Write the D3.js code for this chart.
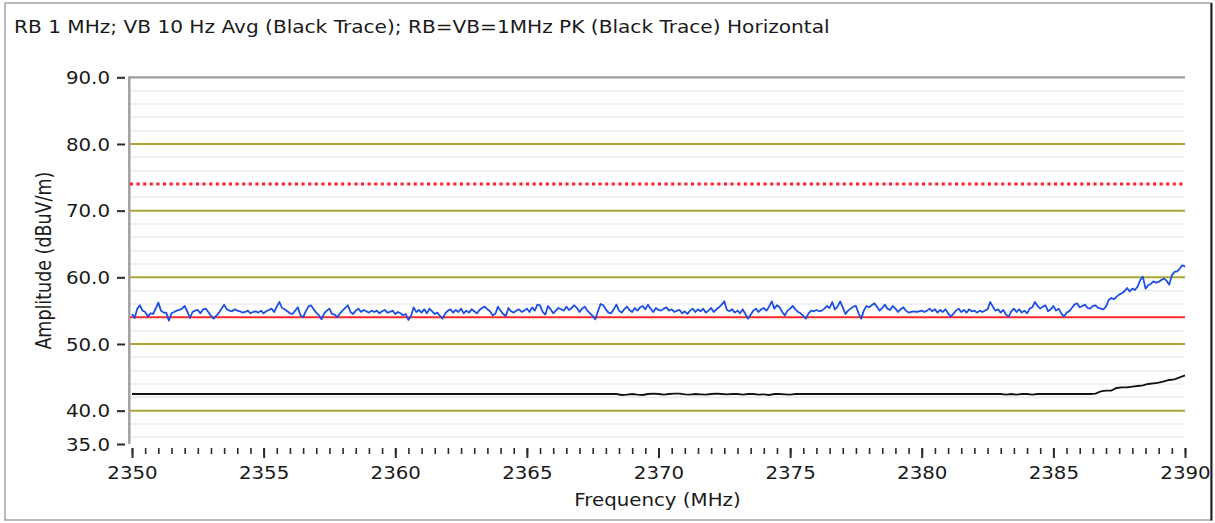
<!DOCTYPE html>
<html>
<head>
<meta charset="utf-8">
<script src="https://cdn.jsdelivr.net/npm/d3@7"></script>
<style>
  html, body { margin: 0; padding: 0; background: #ffffff; }
  svg { display: block; }
  text { font-family: "DejaVu Sans", Verdana, sans-serif; fill: #1a1a1a; }
</style>
</head>
<body>
<svg id="chart" width="1215" height="523"></svg>
<script>
// ---- Sweep data ----------------------------------------------------------
const titleText = "RB 1 MHz; VB 10 Hz Avg (Black Trace); RB=VB=1MHz PK (Black Trace) Horizontal";
const xLabel = "Frequency (MHz)";
const yLabel = "Amplitude (dBuV/m)";

// Peak sweep (blue): 2350.0 .. 2390.0 MHz, 0.1 MHz per point
const peakStart = 2350, peakStep = 0.1;
const peakValues = [
  54.5,53.9,55.3,55.8,55.0,54.8,54.1,54.6,54.5,55.3,56.2,55.0,54.7,54.7,53.5,54.6,54.8,55.0,55.1,55.3,
  55.7,54.9,53.9,54.8,55.0,55.1,54.6,55.2,55.3,54.8,54.2,53.8,54.2,54.7,55.3,55.9,55.2,55.0,54.9,55.2,
  55.0,54.9,54.7,54.8,55.0,54.6,54.8,54.9,54.7,55.0,54.6,54.9,55.1,55.3,54.8,55.6,56.3,55.4,55.2,54.9,
  54.6,54.5,55.0,55.5,54.3,54.0,54.9,55.6,55.8,55.2,54.7,54.3,53.7,54.6,55.0,55.3,54.5,54.4,54.0,54.6,
  55.0,55.4,55.8,54.8,54.5,55.0,55.3,54.8,55.1,54.9,54.7,55.0,54.8,55.0,54.6,54.9,55.1,54.7,54.8,55.0,
  54.5,54.8,54.6,54.3,54.5,53.6,54.2,55.5,54.8,55.1,54.7,55.2,54.6,55.3,54.9,54.5,54.7,54.2,53.8,54.6,
  55.0,55.2,54.7,55.1,54.8,55.3,54.6,55.0,54.7,55.2,54.9,54.6,55.1,55.4,55.6,55.2,54.9,54.3,54.5,55.6,
  55.0,54.5,54.2,55.4,54.9,54.7,55.0,55.2,54.8,55.0,55.3,54.8,55.5,55.0,55.9,55.8,54.8,54.4,55.7,55.2,
  54.6,55.0,55.4,55.2,55.0,55.6,55.1,55.4,55.8,55.4,54.8,55.3,55.6,55.0,54.6,54.2,53.7,54.9,56.0,55.8,
  55.2,54.7,54.6,55.2,55.9,55.0,54.7,55.2,55.6,55.1,54.8,55.4,55.0,55.5,55.7,55.2,55.9,55.3,54.8,55.4,
  55.1,55.0,55.3,55.5,55.0,55.2,54.8,55.0,55.1,54.6,54.9,54.5,55.0,55.3,54.8,55.2,54.9,55.3,54.7,55.0,
  55.4,54.8,55.2,55.5,55.9,56.4,55.1,54.9,55.2,54.7,55.0,54.6,55.2,54.5,53.8,54.4,55.0,55.3,54.8,55.2,
  55.4,55.0,55.6,56.4,55.3,55.8,55.5,54.8,54.3,55.0,55.3,55.7,55.2,54.8,54.6,54.2,53.8,54.6,55.0,54.9,
  55.1,54.9,55.0,55.3,55.7,55.4,56.3,55.2,55.6,56.4,55.5,54.5,55.0,55.3,55.6,55.7,54.6,53.8,55.0,55.7,
  55.5,55.8,56.1,55.6,55.0,55.4,55.9,55.3,55.1,55.7,55.3,54.8,55.2,55.5,55.0,54.7,54.8,54.9,54.8,54.9,
  55.0,54.8,55.0,55.3,54.9,55.2,54.7,55.1,54.8,55.2,54.6,54.1,54.5,55.0,55.3,54.8,55.1,54.7,55.2,54.9,
  55.0,54.7,55.0,54.8,55.0,55.2,56.3,55.6,55.0,55.2,54.7,55.1,54.4,54.1,54.9,55.3,54.8,55.2,54.7,55.0,
  54.6,55.3,55.5,56.3,55.7,55.3,55.6,55.8,54.9,55.2,55.7,55.0,55.3,54.6,54.1,54.7,54.9,55.4,55.9,56.1,
  55.5,55.7,55.9,55.4,55.3,55.7,55.8,55.4,55.3,55.2,55.6,56.6,56.9,56.7,57.1,57.4,57.6,57.9,58.4,57.9,
  58.3,58.1,58.6,59.6,60.1,58.3,58.8,59.0,59.4,59.2,59.3,59.6,59.8,59.5,58.9,60.3,60.8,60.9,61.3,61.8,
  61.6
];

// Average sweep (black): 2350.0 .. 2390.0 MHz, 0.2 MHz per point
const avgStart = 2350, avgStep = 0.2;
const avgValues = [
  42.5,42.5,42.5,42.5,42.5,42.5,42.5,42.5,42.5,42.5,42.5,42.5,42.5,42.5,42.5,42.5,42.5,42.5,42.5,42.5,
  42.5,42.5,42.5,42.5,42.5,42.5,42.5,42.5,42.5,42.5,42.5,42.5,42.5,42.5,42.5,42.5,42.5,42.5,42.5,42.5,
  42.5,42.5,42.5,42.5,42.5,42.5,42.5,42.5,42.5,42.5,42.5,42.5,42.5,42.5,42.5,42.5,42.5,42.5,42.5,42.5,
  42.5,42.5,42.5,42.5,42.5,42.5,42.5,42.5,42.5,42.5,42.5,42.5,42.5,42.5,42.5,42.5,42.5,42.5,42.5,42.5,
  42.5,42.5,42.5,42.5,42.5,42.5,42.5,42.5,42.5,42.5,42.5,42.5,42.5,42.35,42.4,42.5,42.4,42.35,42.5,42.55,
  42.5,42.4,42.5,42.55,42.55,42.45,42.4,42.5,42.45,42.4,42.5,42.55,42.5,42.45,42.5,42.5,42.4,42.5,42.5,42.4,
  42.45,42.35,42.5,42.5,42.45,42.4,42.5,42.5,42.5,42.5,42.5,42.5,42.5,42.5,42.5,42.5,42.5,42.5,42.5,42.5,
  42.5,42.5,42.5,42.5,42.5,42.5,42.5,42.5,42.5,42.5,42.5,42.5,42.5,42.5,42.5,42.5,42.5,42.5,42.5,42.5,
  42.5,42.5,42.5,42.5,42.5,42.5,42.4,42.5,42.4,42.5,42.5,42.4,42.5,42.5,42.5,42.5,42.5,42.5,42.5,42.5,
  42.5,42.5,42.5,42.55,42.9,43.0,43.0,43.4,43.5,43.5,43.6,43.7,43.8,44.0,44.1,44.2,44.4,44.6,44.7,45.0,
  45.3
];

// Limit lines (dBuV/m)
const peakLimit = 74;
const avgLimit = 54;

// Axes
const xDomain = [2350, 2390];
const yDomain = [35, 90];
const xMajorTicks = [2350, 2355, 2360, 2365, 2370, 2375, 2380, 2385, 2390];
const yTicks = [35, 40, 50, 60, 70, 80, 90];
const yMajorGrid = [40, 50, 60, 70, 80];
const yMinorGrid = [36, 38, 42, 44, 46, 48, 52, 54, 56, 58, 62, 64, 66, 68, 72, 74, 76, 78, 82, 84, 86, 88];

// ---- Drawing -------------------------------------------------------------
const svg = d3.select("#chart");
const plot = { left: 130, right: 1185, top: 77.3, bottom: 444 };
const stretch = 1.165;          // glyphs are drawn slightly wide
const titleStretch = 1.183;
const fontSize = 17;

const x = d3.scaleLinear().domain(xDomain).range([132, plot.right]);
const y = d3.scaleLinear().domain(yDomain).range([plot.bottom, plot.top]);

// outer frame
svg.append("rect").attr("x", 5).attr("y", 3).attr("width", 1206).attr("height", 517)
  .attr("fill", "#ffffff").attr("stroke", "#a3a3a3").attr("stroke-width", 1.5);
svg.append("line").attr("x1", 1211.5).attr("x2", 1211.5).attr("y1", 3).attr("y2", 520.5)
  .attr("stroke", "#1c1c1c").attr("stroke-width", 2);

// title
svg.append("g").attr("transform", `translate(14,33) scale(${titleStretch},1)`)
  .append("text").attr("font-size", fontSize).attr("text-anchor", "start").text(titleText);

// minor grid
svg.append("g").selectAll("line").data(yMinorGrid).join("line")
  .attr("x1", plot.left).attr("x2", plot.right)
  .attr("y1", d => y(d)).attr("y2", d => y(d))
  .attr("stroke", "#ececec").attr("stroke-width", 1.5);

// major grid
svg.append("g").selectAll("line").data(yMajorGrid).join("line")
  .attr("x1", plot.left).attr("x2", plot.right)
  .attr("y1", d => y(d)).attr("y2", d => y(d))
  .attr("stroke", "#aba634").attr("stroke-width", 2);

// top border of plot and left axis line
svg.append("line").attr("x1", 129).attr("x2", plot.right)
  .attr("y1", y(90)).attr("y2", y(90)).attr("stroke", "#9e9e9e").attr("stroke-width", 2.2);
svg.append("line").attr("x1", 129.3).attr("x2", 129.3)
  .attr("y1", y(90) - 1).attr("y2", plot.bottom).attr("stroke", "#9e9e9e").attr("stroke-width", 2.4);

// limit lines
svg.append("line").attr("x1", plot.left).attr("x2", plot.right)
  .attr("y1", y(peakLimit)).attr("y2", y(peakLimit))
  .attr("stroke", "#ff1f2a").attr("stroke-width", 3).attr("stroke-dasharray", "3,3.6");
svg.append("line").attr("x1", plot.left).attr("x2", plot.right)
  .attr("y1", y(avgLimit)).attr("y2", y(avgLimit))
  .attr("stroke", "#ff2a2a").attr("stroke-width", 2);

// traces
const peakLine = d3.line().x((d, i) => x(peakStart + i * peakStep)).y(d => y(d));
const avgLine = d3.line().x((d, i) => x(avgStart + i * avgStep)).y(d => y(d));

svg.append("path").datum(avgValues).attr("d", avgLine)
  .attr("fill", "none").attr("stroke", "#141414").attr("stroke-width", 1.8);
svg.append("path").datum(peakValues).attr("d", peakLine)
  .attr("fill", "none").attr("stroke", "#1d4fe3").attr("stroke-width", 1.8)
  .attr("stroke-linejoin", "round");

// y axis
const yAxis = d3.axisLeft(y).tickValues(yTicks).tickSize(8).tickSizeOuter(0)
  .tickFormat(d3.format(".1f"));
const gy = svg.append("g").attr("transform", "translate(125,0)").call(yAxis);
gy.select(".domain").remove();
gy.selectAll(".tick line").attr("stroke", "#2a2a2a").attr("stroke-width", 2);
gy.selectAll(".tick text")
  .attr("x", 0).attr("dy", null).attr("y", 0)
  .attr("font-size", fontSize).attr("font-family", "DejaVu Sans").attr("fill", "#1a1a1a")
  .attr("transform", `translate(-15,6.2) scale(${stretch},1)`);

// x axis: minor ticks every 0.5 MHz, major ticks with labels every 5 MHz
const xMinor = d3.axisBottom(x).ticks(80).tickSize(6).tickSizeOuter(0).tickFormat("");
const gxm = svg.append("g").attr("transform", "translate(0,448)").call(xMinor);
gxm.select(".domain").remove();
gxm.selectAll(".tick line").attr("stroke", "#2a2a2a").attr("stroke-width", 1.6);

const xAxis = d3.axisBottom(x).tickValues(xMajorTicks).tickSize(10).tickSizeOuter(0)
  .tickFormat(d3.format("d"));
const gx = svg.append("g").attr("transform", "translate(0,448)").call(xAxis);
gx.select(".domain").remove();
gx.selectAll(".tick line").attr("stroke", "#2a2a2a").attr("stroke-width", 2);
gx.selectAll(".tick text")
  .attr("y", 0).attr("dy", null)
  .attr("font-size", fontSize).attr("font-family", "DejaVu Sans").attr("fill", "#1a1a1a")
  .attr("transform", `translate(0,31) scale(${stretch},1)`);

// axis titles
svg.append("g").attr("transform", `translate(${(plot.left + plot.right) / 2},506) scale(${stretch},1)`)
  .append("text").attr("font-size", fontSize).attr("text-anchor", "middle").text(xLabel);
svg.append("g").attr("transform", `translate(51,${(plot.top + plot.bottom) / 2}) rotate(-90) scale(1,${stretch})`)
  .append("text").attr("font-size", 17.5).attr("text-anchor", "middle").text(yLabel);
</script>
</body>
</html>
